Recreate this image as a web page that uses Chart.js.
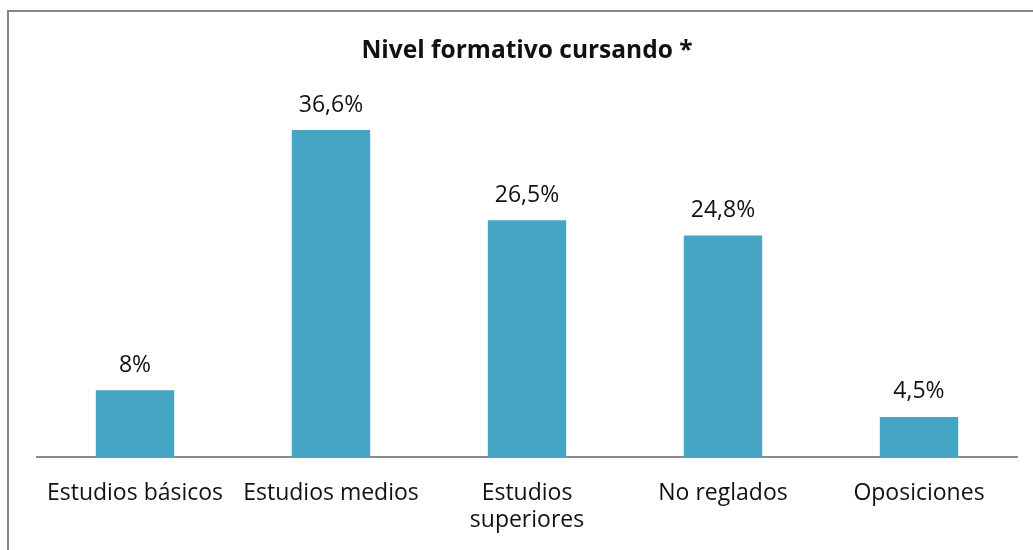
<!DOCTYPE html>
<html>
<head>
<meta charset="utf-8">
<script src="https://cdn.jsdelivr.net/npm/chart.js@4/dist/chart.umd.min.js"></script>
<style>
  html, body { margin: 0; padding: 0; background: #fff; }
  body { width: 1033px; height: 550px; position: relative; overflow: hidden; }
  .frame {
    position: absolute; left: 7px; top: 10px; right: -10px; bottom: -10px;
    border-left: 2px solid #858585; border-top: 2px solid #858585;
  }
  #wrap { position: absolute; left: 21px; top: 0; width: 1012px; height: 557px; }
</style>
</head>
<body>
<div class="frame"></div>
<div id="wrap"><canvas id="chart"></canvas></div>
<script>
// Nivel formativo cursando: share of respondents by level
const categories  = ['Estudios básicos', 'Estudios medios', ['Estudios', 'superiores'], 'No reglados', 'Oposiciones'];
const values      = [7.5, 36.6, 26.5, 24.8, 4.5];
const valueLabels = ['8%', '36,6%', '26,5%', '24,8%', '4,5%'];

const FONT = '"Open Sans", "Noto Sans", sans-serif';

// draw the value above each bar
const barLabels = {
  id: 'barLabels',
  afterDatasetsDraw(chart) {
    const ctx = chart.ctx;
    const meta = chart.getDatasetMeta(0);
    ctx.save();
    ctx.font = '23px ' + FONT;
    ctx.fillStyle = '#111';
    ctx.textAlign = 'center';
    ctx.textBaseline = 'middle';
    meta.data.forEach((bar, i) => {
      ctx.fillText(valueLabels[i], bar.x, bar.y - 25);
    });
    ctx.restore();
  }
};

new Chart(document.getElementById('chart'), {
  type: 'bar',
  data: {
    labels: categories,
    datasets: [{
      data: values,
      backgroundColor: '#46a4c5',
      borderWidth: 0,
      barPercentage: 0.4,
      categoryPercentage: 1,
    }],
  },
  options: {
    responsive: true,
    maintainAspectRatio: false,
    animation: false,
    layout: { padding: { left: 16, right: 16, top: 0, bottom: 0 } },
    plugins: {
      legend: { display: false },
      tooltip: { enabled: false },
      title: {
        display: true,
        text: 'Nivel formativo cursando *',
        color: '#111',
        font: { family: FONT, size: 24.5, weight: 'bold', lineHeight: 1.2 },
        padding: { top: 36.3, bottom: 33.9 },
      },
    },
    scales: {
      x: {
        grid: { display: false, drawTicks: false },
        border: { display: true, color: '#8a8a8a', width: 2 },
        ticks: {
          color: '#111',
          font: { family: FONT, size: 23, lineHeight: 1.17 },
          padding: 23,
          maxRotation: 0,
          autoSkip: false,
        },
      },
      y: {
        display: false,
        min: 0,
        max: 40,
      },
    },
  },
  plugins: [barLabels],
});
</script>
</body>
</html>
